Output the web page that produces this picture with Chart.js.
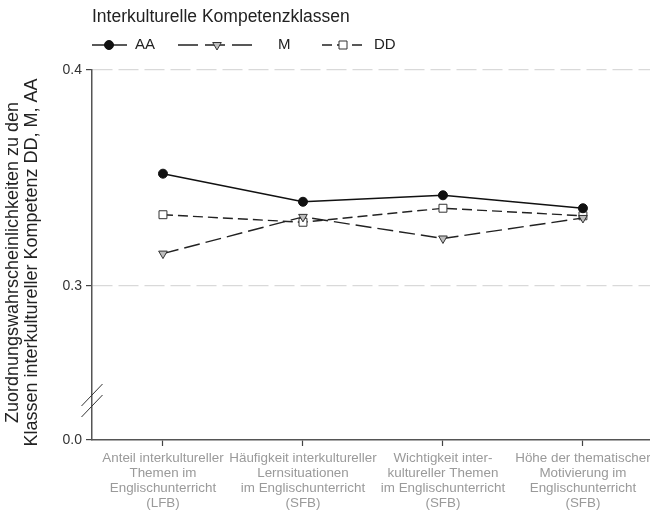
<!DOCTYPE html>
<html>
<head>
<meta charset="utf-8">
<script src="https://cdn.jsdelivr.net/npm/chart.js@4.4.0/dist/chart.umd.min.js"></script>
<style>
  html, body { margin: 0; padding: 0; background: #fff; }
  #wrap { width: 650px; height: 510px; position: relative; }
</style>
</head>
<body>
<div id="wrap"><canvas id="chart"></canvas></div>
<script>
const categories = [
    ['Anteil interkultureller', 'Themen im', 'Englischunterricht', '(LFB)'],
    ['Häufigkeit interkultureller', 'Lernsituationen', 'im Englischunterricht', '(SFB)'],
    ['Wichtigkeit inter-', 'kultureller Themen', 'im Englischunterricht', '(SFB)'],
    ['Höhe der thematischer', 'Motivierung im', 'Englischunterricht', '(SFB)']
];
const seriesNames = ['AA', 'M', 'DD'];
const valuesAA = [0.352, 0.339, 0.342, 0.336];
const valuesM = [0.315, 0.332, 0.322, 0.3315];
const valuesDD = [0.333, 0.3295, 0.336, 0.3325];
const yTickValues = [0.3, 0.4];
const yBreakLabel = '0.0';
const legendTitle = 'Interkulturelle Kompetenzklassen';
const yTitle = ['Zuordnungswahrscheinlichkeiten zu den', 'Klassen interkultureller Kompetenz DD, M, AA'];

// the axis is broken: the bottom of the scale stands for 0.0
const yMin = 0.2287;
const yMax = 0.4;

const FONT = '"Liberation Sans", Arial, sans-serif';

function toPoints(values) {
    return values.map((v, i) => ({ x: i + 1, y: v }));
}

function buildDatasets() {
    return [{
        label: seriesNames[0],
        data: toPoints(valuesAA),
        borderColor: '#111',
        backgroundColor: '#111',
        borderWidth: 1.5,
        pointStyle: 'circle',
        pointRadius: 4.5,
        pointBackgroundColor: '#111',
        pointBorderColor: '#111',
        pointBorderWidth: 1
    },
    {
        label: seriesNames[1],
        data: toPoints(valuesM),
        borderColor: '#222',
        borderWidth: 1.4,
        borderDash: [16, 6],
        pointStyle: 'triangle',
        rotation: 180,
        pointRadius: 5,
        pointBackgroundColor: '#bdbdbd',
        pointBorderColor: '#333',
        pointBorderWidth: 1
    },
    {
        label: seriesNames[2],
        data: toPoints(valuesDD),
        borderColor: '#222',
        borderWidth: 1.4,
        borderDash: [10, 5],
        pointStyle: 'rect',
        pointRadius: 5.6,
        pointBackgroundColor: '#fff',
        pointBorderColor: '#333',
        pointBorderWidth: 1
    }];
}

function drawMarker(ctx, style, x, y) {
    ctx.save();
    ctx.setLineDash([]);
    ctx.lineWidth = 1;
    ctx.beginPath();
    if (style === 'circle') {
        ctx.fillStyle = '#111';
        ctx.strokeStyle = '#111';
        ctx.arc(x, y, 4.5, 0, Math.PI * 2);
    } else if (style === 'triangle') {
        ctx.fillStyle = '#bdbdbd';
        ctx.strokeStyle = '#333';
        ctx.moveTo(x - 4.3, y - 2.5);
        ctx.lineTo(x + 4.3, y - 2.5);
        ctx.lineTo(x, y + 5);
        ctx.closePath();
    } else {
        ctx.fillStyle = '#fff';
        ctx.strokeStyle = '#333';
        ctx.rect(x - 4, y - 4, 8, 8);
    }
    ctx.fill();
    ctx.stroke();
    ctx.restore();
}

const decorations = {
    id: 'decorations',
    afterDraw(chart) {
        const ctx = chart.ctx;
        const area = chart.chartArea;

        // title and legend
        ctx.save();
        ctx.fillStyle = '#222';
        ctx.font = '17.5px ' + FONT;
        ctx.textBaseline = 'middle';
        ctx.fillText(legendTitle, 92, 17);

        const ly = 45;
        const items = [
            { name: seriesNames[0], style: 'circle', x0: 92, x1: 127, mx: 109, dash: [], tx: 135 },
            { name: seriesNames[1], style: 'triangle', x0: 178, x1: 252, mx: 217, dash: [20, 7], tx: 278 },
            { name: seriesNames[2], style: 'rect', x0: 322, x1: 362, mx: 343, dash: [10, 5], tx: 374 }
        ];
        ctx.font = '15px ' + FONT;
        items.forEach(it => {
            ctx.save();
            ctx.strokeStyle = '#222';
            ctx.lineWidth = 1.4;
            ctx.setLineDash(it.dash);
            ctx.beginPath();
            ctx.moveTo(it.x0, ly);
            ctx.lineTo(it.x1, ly);
            ctx.stroke();
            ctx.restore();
            drawMarker(ctx, it.style, it.mx, ly);
            ctx.fillStyle = '#222';
            ctx.fillText(it.name, it.tx, ly);
        });
        ctx.restore();

        // axis break marks
        const ax = area.left;
        ctx.save();
        ctx.strokeStyle = '#333';
        ctx.lineWidth = 1;
        [area.bottom - 45, area.bottom - 34].forEach(cy => {
            ctx.beginPath();
            ctx.moveTo(ax - 10.5, cy + 11);
            ctx.lineTo(ax + 10.5, cy - 11);
            ctx.stroke();
        });
        ctx.restore();
    }
};

function buildChart() {
    const chartCtx = document.getElementById('chart').getContext('2d');

    const chart = new Chart(chartCtx, {
        type: 'line',
        data: {
            datasets: buildDatasets()
        },
        options: {
            responsive: true,
            maintainAspectRatio: false,
            animation: false,
            layout: {
                autoPadding: false,
                padding: { top: 70, right: 0, left: 0, bottom: 0 }
            },
            plugins: {
                legend: { display: false },
                tooltip: { enabled: false }
            },
            scales: {
                x: {
                    type: 'linear',
                    min: 0.493,
                    max: 4.479,
                    afterBuildTicks: axis => {
                        axis.ticks = categories.map((c, i) => ({ value: i + 1 }));
                    },
                    afterFit: axis => {
                        axis.height = 70;
                        axis.paddingLeft = 0;
                        axis.paddingRight = 0;
                    },
                    grid: {
                        drawOnChartArea: false,
                        drawTicks: true,
                        tickLength: 6,
                        tickColor: '#444',
                        tickWidth: 1.2
                    },
                    border: {
                        color: '#555',
                        width: 1.5
                    },
                    ticks: {
                        autoSkip: false,
                        maxRotation: 0,
                        padding: 5,
                        color: '#9a9a9a',
                        font: { family: FONT, size: 13.4, lineHeight: 1.12 },
                        callback: value => categories[Math.round(value) - 1] || ''
                    }
                },
                y: {
                    min: yMin,
                    max: yMax,
                    afterBuildTicks: axis => {
                        axis.ticks = [{ value: yMin }].concat(yTickValues.map(v => ({ value: v })));
                    },
                    afterFit: axis => {
                        axis.width = 92;
                    },
                    grid: {
                        color: c => (c.tick && c.tick.value === yMin) ? 'rgba(0,0,0,0)' : '#d9d9d9',
                        lineWidth: 1.2,
                        tickLength: 6,
                        tickColor: '#444',
                        tickWidth: 1.2,
                        tickBorderDash: []
                    },
                    border: {
                        color: '#555',
                        width: 1.5,
                        dash: [20, 6]
                    },
                    ticks: {
                        padding: 4,
                        color: '#333',
                        font: { family: FONT, size: 14 },
                        callback: value => value === yMin ? yBreakLabel : value.toFixed(1)
                    },
                    title: {
                        display: true,
                        // trailing spaces nudge the rotated title a bit downwards
                        text: yTitle.map(t => t + '   '),
                        color: '#222',
                        font: { family: FONT, size: 18, lineHeight: 1.08 },
                        padding: { top: 3, bottom: 0 }
                    }
                }
            }
        },
        plugins: [decorations]
    });
}

buildChart();
</script>
</body>
</html>
